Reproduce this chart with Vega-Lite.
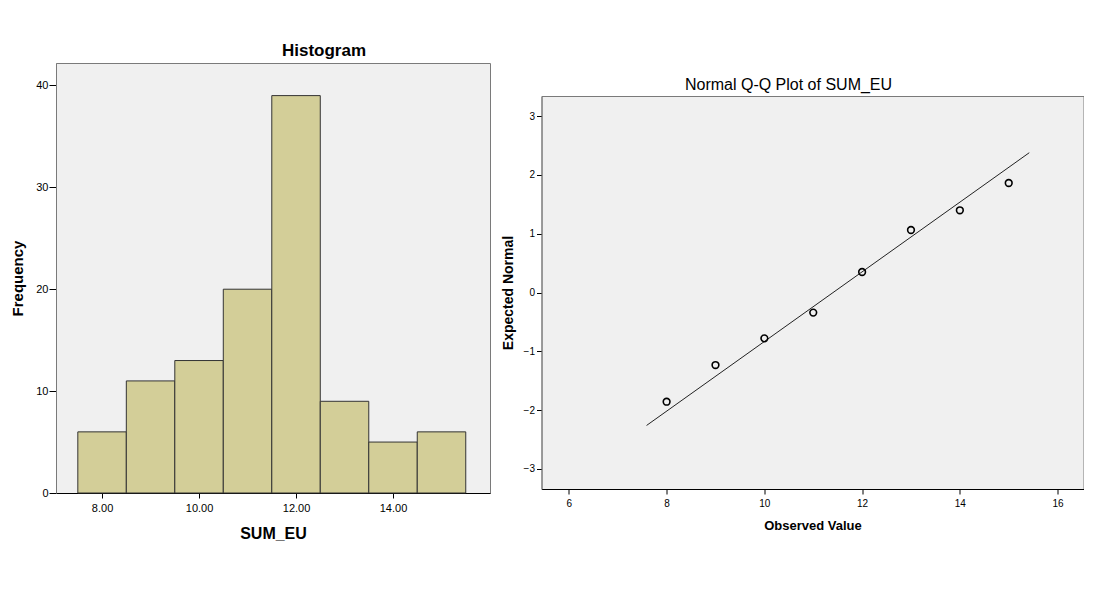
{
  "$schema": "https://vega.github.io/schema/vega-lite/v6.json",
  "background": "white",
  "padding": {"left": 10, "top": 41, "right": 0, "bottom": 0},
  "config": {
    "font": "Liberation Sans",
    "view": {"stroke": "#7a7a7a", "strokeWidth": 1, "fill": "#f0f0f0"},
    "axis": {
      "grid": false,
      "domainColor": "#000000",
      "tickColor": "#000000",
      "labelColor": "#000000",
      "titleColor": "#000000",
      "labelFont": "Liberation Sans",
      "titleFont": "Liberation Sans",
      "titleFontWeight": "bold"
    },
    "axisY": {"domainColor": "#7a7a7a"},
    "title": {"font": "Liberation Sans", "color": "#000000", "frame": "group", "anchor": "middle"}
  },
  "spacing": 9.5,
  "hconcat": [
    {
      "width": 434,
      "height": 430,
      "title": {"text": "Histogram", "fontSize": 17, "fontWeight": "bold", "dx": 51, "offset": 3},
      "data": {
        "values": [
          {"bin_start": 7.5, "bin_end": 8.5, "count": 6},
          {"bin_start": 8.5, "bin_end": 9.5, "count": 11},
          {"bin_start": 9.5, "bin_end": 10.5, "count": 13},
          {"bin_start": 10.5, "bin_end": 11.5, "count": 20},
          {"bin_start": 11.5, "bin_end": 12.5, "count": 39},
          {"bin_start": 12.5, "bin_end": 13.5, "count": 9},
          {"bin_start": 13.5, "bin_end": 14.5, "count": 5},
          {"bin_start": 14.5, "bin_end": 15.5, "count": 6}
        ]
      },
      "mark": {"type": "rect", "fill": "#d3ce98", "stroke": "#333333", "strokeWidth": 1},
      "encoding": {
        "x": {
          "field": "bin_start",
          "type": "quantitative",
          "scale": {"domain": [7.05, 16.0], "nice": false, "zero": false},
          "axis": {"values": [8, 10, 12, 14], "format": ".2f", "title": "SUM_EU", "labelFontSize": 11, "titleFontSize": 16, "tickSize": 5, "labelPadding": 4, "titlePadding": 12}
        },
        "x2": {"field": "bin_end"},
        "y": {
          "field": "count",
          "type": "quantitative",
          "scale": {"domain": [0, 42.2], "nice": false},
          "axis": {"values": [0, 10, 20, 30, 40], "title": "Frequency", "labelFontSize": 11, "titleFontSize": 15, "tickSize": 7, "labelPadding": 1, "titlePadding": 10}
        },
        "y2": {"datum": 0}
      }
    },
    {
      "spacing": 12,
      "vconcat": [
        {
          "width": 542,
          "height": 1,
          "view": {"stroke": null, "fill": null},
          "data": {"values": []},
          "mark": "point"
        },
        {
          "width": 542,
          "height": 393,
          "title": {"text": "Normal Q-Q Plot of SUM_EU", "fontSize": 16, "fontWeight": "normal", "dx": -24, "offset": 3},
          "layer": [
            {
              "data": {
                "values": [
                  {"observed": 7.59, "expected": -2.26},
                  {"observed": 15.42, "expected": 2.376}
                ]
              },
              "mark": {"type": "line", "color": "#222222", "strokeWidth": 1},
              "encoding": {
                "x": {"field": "observed", "type": "quantitative"},
                "y": {"field": "expected", "type": "quantitative"}
              }
            },
            {
              "data": {
                "values": [
                  {"observed": 8, "expected": -1.856},
                  {"observed": 9, "expected": -1.233},
                  {"observed": 10, "expected": -0.779},
                  {"observed": 11, "expected": -0.342},
                  {"observed": 12, "expected": 0.348},
                  {"observed": 13, "expected": 1.062},
                  {"observed": 14, "expected": 1.397},
                  {"observed": 15, "expected": 1.861}
                ]
              },
              "mark": {"type": "point", "shape": "circle", "filled": false, "stroke": "#000000", "strokeWidth": 1.6, "size": 45, "opacity": 1},
              "encoding": {
                "x": {"field": "observed", "type": "quantitative"},
                "y": {"field": "expected", "type": "quantitative"}
              }
            }
          ],
          "encoding": {
            "x": {
              "field": "observed",
              "type": "quantitative",
              "scale": {"domain": [5.44, 16.53], "nice": false, "zero": false},
              "axis": {"values": [6, 8, 10, 12, 14, 16], "title": "Observed Value", "labelFontSize": 10, "titleFontSize": 13, "tickSize": 5, "labelPadding": 4, "titlePadding": 11}
            },
            "y": {
              "field": "expected",
              "type": "quantitative",
              "scale": {"domain": [-3.34, 3.34], "nice": false, "zero": false},
              "axis": {"values": [-3, -2, -1, 0, 1, 2, 3], "title": "Expected Normal", "labelFontSize": 10, "titleFontSize": 14, "tickSize": 5, "labelPadding": 2, "titlePadding": 8}
            }
          }
        }
      ]
    }
  ]
}
